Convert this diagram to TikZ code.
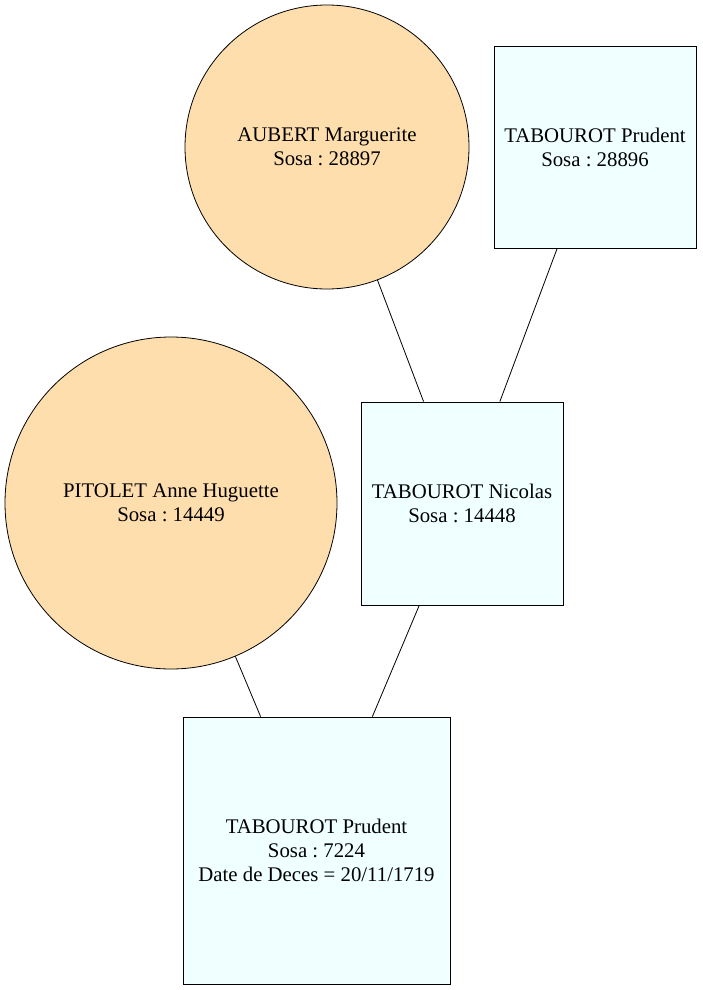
\documentclass[tikz,border=0pt]{standalone}
\usepackage{fontspec}
\setmainfont{Liberation Serif}
\frenchspacing
\definecolor{fem}{HTML}{FFDEAD}
\definecolor{masc}{HTML}{F0FFFF}
\begin{document}
\begin{tikzpicture}[x=1pt,y=-1pt,
  every node/.style={draw=black,line width=0.8pt,align=center,inner sep=0pt,
    font=\fontsize{20.8}{24}\selectfont},
  femme/.style={circle,fill=fem},
  homme/.style={rectangle,fill=masc},
  link/.style={draw=black,line width=0.8pt}]
\useasboundingbox (0,0) rectangle (702,990);
\node[femme,minimum size=284pt] (aubert) at (327,147) {AUBERT Marguerite\\Sosa : 28897};
\node[homme,minimum width=202pt,minimum height=202pt] (prudent1) at (595,147) {TABOUROT Prudent\\Sosa : 28896};
\node[homme,minimum width=202pt,minimum height=203pt] (nicolas) at (462,503.5) {TABOUROT Nicolas\\Sosa : 14448};
\node[femme,minimum size=332pt] (pitolet) at (171,503) {PITOLET Anne Huguette\\Sosa : 14449};
\node[homme,minimum width=267pt,minimum height=267pt] (prudent2) at (316.5,850.5) {TABOUROT Prudent\\Sosa : 7224\\Date de Deces = 20/11/1719};
\draw[link] (aubert) -- (nicolas);
\draw[link] (prudent1) -- (nicolas);
\draw[link] (pitolet) -- (prudent2);
\draw[link] (nicolas) -- (prudent2);
\end{tikzpicture}
\end{document}
